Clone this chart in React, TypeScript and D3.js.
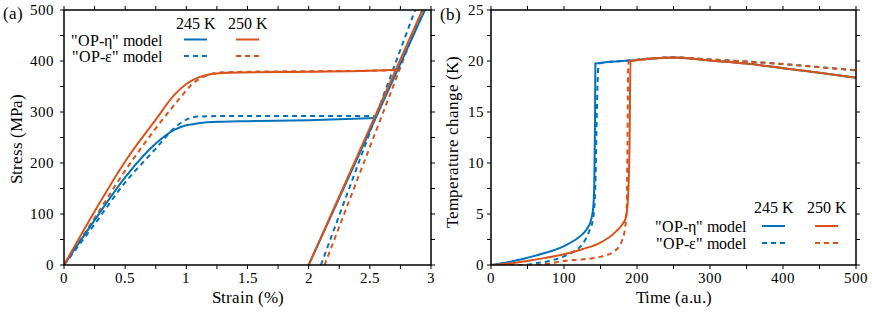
import React from "react";
import * as d3 from "d3";

const BLUE = "#0072BD";
const ORANGE = "#D95319";
const FONT = '"ChartSerif", "Liberation Serif", "Times New Roman", Tinos';
const FONT_CSS = `@font-face { font-family: "ChartSerif"; src: local("Liberation Serif"), local("LiberationSerif"), local("LiberationSerif-Regular"); }`;

// ---- panel (a): stress-strain ----
// loading curves up to the end of the plateau
const etaStrain245 = [0, 0.25, 0.5, 0.75, 0.9, 1.0, 1.1, 1.3, 1.5, 2.0, 2.55];
const etaStress245 = [0, 88, 172, 238, 265, 274, 278, 281, 282, 284, 288];
const epsStrain245 = [0, 0.25, 0.5, 0.75, 0.9, 1.0, 1.1, 1.3, 1.5, 2.0, 2.55];
const epsStress245 = [0, 80, 162, 228, 268, 285, 291, 292, 292, 292, 292];
const etaStrain250 = [0, 0.25, 0.5, 0.75, 0.9, 1.0, 1.1, 1.2, 1.35, 2.0, 2.5, 2.73];
const etaStress250 = [0, 105, 203, 285, 333, 355, 368, 374, 377, 379, 381, 383];
const epsStrain250 = [0, 0.25, 0.5, 0.75, 0.93, 1.05, 1.15, 1.25, 1.5, 2.0, 2.5, 2.73];
const epsStress250 = [0, 92, 185, 268, 322, 355, 370, 377, 379, 380, 381, 382];
// steep elastic lines (strain at 0 MPa and at 500 MPa)
const etaLineStrain245 = [2.0, 2.95];
const etaLineStrain250 = [2.0, 2.93];
const epsLineStrain245 = [2.1, 2.87];
const epsLineStrain250 = [2.13, 2.93];
const lineStress = [0, 500];

// ---- panel (b): temperature change vs time ----
const etaTime245 = [0, 25, 50, 75, 100, 115, 125, 132, 137, 140, 141.5, 142.5, 143, 190, 250, 300, 350, 400, 450, 500];
const etaTemp245 = [0, 0.3, 0.72, 1.2, 1.86, 2.45, 3.0, 3.6, 4.4, 5.6, 8, 14, 19.75, 20.05, 20.35, 20.05, 19.75, 19.3, 18.85, 18.35];
const epsTime245 = [0, 40, 60, 80, 100, 115, 125, 130, 135, 140, 143, 145, 147, 150, 190, 250, 300, 350, 400, 450, 500];
const epsTemp245 = [0, 0, 0.15, 0.4, 0.85, 1.4, 2.0, 2.6, 3.4, 4.6, 8, 15, 19.4, 19.8, 20.05, 20.35, 20.15, 19.95, 19.7, 19.4, 19.08];
const etaTime250 = [0, 25, 50, 75, 100, 125, 150, 170, 180, 185, 188, 190, 191, 250, 300, 350, 400, 450, 500];
const etaTemp250 = [0, 0.15, 0.4, 0.7, 1.05, 1.55, 2.2, 3.2, 4.0, 4.7, 7, 13, 20.0, 20.35, 20.05, 19.75, 19.3, 18.85, 18.35];
const epsTime250 = [0, 60, 80, 100, 125, 150, 170, 180, 184, 186, 187, 188, 190, 250, 300, 350, 400, 450, 500];
const epsTemp250 = [0, 0, 0.15, 0.4, 0.55, 0.8, 1.4, 2.5, 3.8, 6, 12, 19.6, 20.0, 20.35, 20.15, 19.95, 19.7, 19.4, 19.08];

const tempLabels = ["245 K", "250 K"];
const modelLabels = ['"OP-η" model', '"OP-ε" model'];
const strainTicks = [0, 0.5, 1, 1.5, 2, 2.5, 3];
const stressTicks = [0, 100, 200, 300, 400, 500];
const timeTicks = [0, 100, 200, 300, 400, 500];
const tempTicks = [0, 5, 10, 15, 20, 25];

const zip = (xs, ys) => xs.map((v, i) => [v, ys[i]]);
const TICK = 4;

const Txt = ({ x, y, anchor = "start", size = 16.5, children, transform }) => (
  <text
    x={x}
    y={y}
    textAnchor={anchor}
    transform={transform}
    fill="#000"
    style={{ fontFamily: FONT, fontSize: size }}
  >
    {children}
  </text>
);

const Panel = ({ cfg }) => {
  const { box, id, lg } = cfg;
  const x = d3.scaleLinear().domain(cfg.xDomain).range([box.left, box.right]);
  const y = d3.scaleLinear().domain(cfg.yDomain).range([box.bottom, box.top]);
  const w = box.right - box.left;
  const h = box.bottom - box.top;

  return (
    <g>
      <clipPath id={id}>
        <rect x={box.left} y={box.top} width={w} height={h} />
      </clipPath>
      <g clipPath={`url(#${id})`}>
        {cfg.series.map((s, i) => {
          const line = d3
            .line()
            .x((d) => x(d[0]))
            .y((d) => y(d[1]))
            .curve(s.curve || d3.curveLinear);
          return (
            <path
              key={i}
              d={line(s.data)}
              fill="none"
              stroke={s.color}
              strokeWidth={2}
              strokeDasharray={s.dashed ? "5,4" : undefined}
            />
          );
        })}
      </g>

      {/* ticks on all four sides, pointing outward */}
      {cfg.xMinor.map((v) => (
        <g key={"x" + v}>
          <line x1={x(v)} x2={x(v)} y1={box.bottom} y2={box.bottom + TICK} stroke="#000" />
          <line x1={x(v)} x2={x(v)} y1={box.top} y2={box.top - TICK} stroke="#000" />
        </g>
      ))}
      {cfg.yMinor.map((v) => (
        <g key={"y" + v}>
          <line x1={box.left} x2={box.left - TICK} y1={y(v)} y2={y(v)} stroke="#000" />
          <line x1={box.right} x2={box.right + TICK} y1={y(v)} y2={y(v)} stroke="#000" />
        </g>
      ))}
      {cfg.xMajor.map((v) => (
        <Txt key={"xl" + v} x={x(v)} y={box.bottom + 18} anchor="middle" size={15}>
          {cfg.fmtX(v)}
        </Txt>
      ))}
      {cfg.yMajor.map((v) => (
        <Txt key={"yl" + v} x={box.left - cfg.yPad} y={y(v) + 5} anchor="end" size={15}>
          {String(v)}
        </Txt>
      ))}

      <rect x={box.left} y={box.top} width={w} height={h} fill="none" stroke="#000" strokeWidth={1.5} />

      <Txt x={(box.left + box.right) / 2} y={303} anchor="middle">
        {cfg.xLabel}
      </Txt>
      <Txt x={0} y={0} anchor="middle" transform={`translate(${cfg.yLabelX},${cfg.yLabelY}) rotate(-90)`}>
        {cfg.yLabel}
      </Txt>
      <Txt x={cfg.tagX} y={cfg.tagY} size={17}>
        {cfg.tag}
      </Txt>

      {/* legend */}
      {tempLabels.map((t, i) => (
        <Txt key={t} x={lg.colX[i]} y={lg.headY} anchor="middle" size={16}>
          {t}
        </Txt>
      ))}
      {modelLabels.map((t, j) => (
        <g key={t}>
          <Txt x={lg.textX} y={lg.rowY[j]} anchor="end" size={16}>
            {t}
          </Txt>
          {[BLUE, ORANGE].map((c, i) => (
            <line
              key={c}
              x1={lg.colX[i] - 12}
              x2={lg.colX[i] + 11}
              y1={lg.rowY[j] - 6}
              y2={lg.rowY[j] - 6}
              stroke={c}
              strokeWidth={2}
              strokeDasharray={j === 1 ? "5,4" : undefined}
            />
          ))}
        </g>
      ))}
    </g>
  );
};

const panelA = {
  id: "clipA",
  box: { left: 64, right: 431, top: 10, bottom: 265 },
  xDomain: [0, 3],
  yDomain: [0, 500],
  xMinor: d3.range(0, 3.01, 0.25),
  xMajor: strainTicks,
  yMinor: d3.range(0, 501, 50),
  yMajor: stressTicks,
  yPad: 10,
  fmtX: (d) => String(d),
  series: [
    { data: zip(epsStrain245, epsStress245), color: BLUE, dashed: true, curve: d3.curveMonotoneX },
    { data: zip(epsLineStrain245, lineStress), color: BLUE, dashed: true },
    { data: zip(epsStrain250, epsStress250), color: ORANGE, dashed: true, curve: d3.curveMonotoneX },
    { data: zip(epsLineStrain250, lineStress), color: ORANGE, dashed: true },
    { data: zip(etaStrain245, etaStress245), color: BLUE, curve: d3.curveMonotoneX },
    { data: zip(etaLineStrain245, lineStress), color: BLUE },
    { data: zip(etaStrain250, etaStress250), color: ORANGE, curve: d3.curveMonotoneX },
    { data: zip(etaLineStrain250, lineStress), color: ORANGE },
  ],
  xLabel: "Strain (%)",
  yLabel: "Stress (MPa)",
  yLabelX: 22,
  yLabelY: 139,
  tag: "(a)",
  tagX: 3,
  tagY: 19,
  lg: { colX: [196, 248], headY: 29, textX: 162, rowY: [45.5, 62] },
};

const panelB = {
  id: "clipB",
  box: { left: 491, right: 856, top: 10, bottom: 265 },
  xDomain: [0, 500],
  yDomain: [0, 25],
  xMinor: d3.range(0, 501, 50),
  xMajor: timeTicks,
  yMinor: d3.range(0, 25.01, 2.5),
  yMajor: tempTicks,
  yPad: 7,
  fmtX: (d) => String(d),
  series: [
    { data: zip(etaTime245, etaTemp245), color: BLUE, curve: d3.curveMonotoneX },
    { data: zip(epsTime245, epsTemp245), color: BLUE, dashed: true, curve: d3.curveMonotoneX },
    { data: zip(etaTime250, etaTemp250), color: ORANGE, curve: d3.curveMonotoneX },
    { data: zip(epsTime250, epsTemp250), color: ORANGE, dashed: true, curve: d3.curveMonotoneX },
  ],
  xLabel: "Time (a.u.)",
  yLabel: "Temperature change (K)",
  yLabelX: 458,
  yLabelY: 142,
  tag: "(b)",
  tagX: 440,
  tagY: 20,
  lg: { colX: [774, 827], headY: 213, textX: 746, rowY: [232, 249] },
};

const App = () => (
  <svg
    width={872}
    height={313}
    style={{ position: "absolute", left: 0, top: 0, background: "#fff", fontFamily: FONT }}
  >
    <style>{FONT_CSS}</style>
    <Panel cfg={panelA} />
    <Panel cfg={panelB} />
  </svg>
);

export default App;
